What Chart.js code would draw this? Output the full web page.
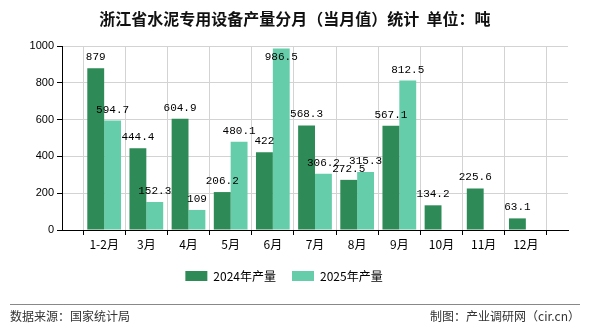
<!DOCTYPE html>
<html>
<head>
<meta charset="utf-8">
<script src="https://cdn.jsdelivr.net/npm/chart.js@4.4.1/dist/chart.umd.min.js"></script>
<style>
	body { margin: 0; background: #fff; }
	#wrap { position: relative; width: 590px; height: 330px; font-family: 'Noto Sans CJK SC', sans-serif; }
	#title { position: absolute; left: 0; top: 6px; width: 590px; text-align: center; font-size: 16px; font-weight: bold; color: #111; }
	#line { position: absolute; left: 10px; top: 304px; width: 570px; border-top: 1px solid #888; }
	.foot { position: absolute; top: 307px; font-size: 12px; color: #333; }
	#src { left: 10px; }
	#by { right: 10px; }
	canvas { position: absolute; left: 0; top: 0; }
</style>
</head>
<body>
<div id="wrap">
	<canvas id="myChart" width="590" height="330"></canvas>
	<div id="title">浙江省水泥专用设备产量分月（当月值）统计&nbsp;&nbsp;单位：吨</div>
	<div id="line"></div>
	<div class="foot" id="src">数据来源：国家统计局</div>
	<div class="foot" id="by">制图：产业调研网（cir.cn）</div>
</div>
<script>
// blank slot at both ends, like the original grid
const months = ['', '1-2月', '3月', '4月', '5月', '6月', '7月', '8月', '9月', '10月', '11月', '12月', ''];
const output_2024 = [null, 879, 444.4, 604.9, 206.2, 422, 568.3, 272.5, 567.1, 134.2, 225.6, 63.1, null];
const output_2025 = [null, 594.7, 152.3, 109, 480.1, 986.5, 306.2, 315.3, 812.5, null, null, null, null];
const y_ticks = [0, 200, 400, 600, 800, 1000];

const valueLabels = {
	id: 'valueLabels',
	afterDatasetsDraw(chart) {
		const ctx = chart.ctx;
		const top = chart.chartArea.top;
		ctx.save();
		ctx.font = '11px "Liberation Mono", monospace';
		ctx.fillStyle = '#000';
		ctx.textAlign = 'center';
		ctx.textBaseline = 'alphabetic';
		chart.data.datasets.forEach((ds, i) => {
			chart.getDatasetMeta(i).data.forEach((bar, j) => {
				const v = ds.data[j];
				if (v === null) return;
				const y = Math.max(bar.y - 8, top + 14);
				ctx.fillText(String(v), bar.x, y);
			});
		});
		ctx.restore();
	},
};

const tickFont = { family: '"Liberation Sans", sans-serif', size: 11 };

var ctx = document.getElementById('myChart').getContext('2d');
myChart = new Chart(ctx, {
	type: 'bar',
	data: {
		labels: months,
		datasets: [
			{ label: '2024年产量', data: output_2024, backgroundColor: '#2e8b57' },
			{ label: '2025年产量', data: output_2025, backgroundColor: '#66cdaa' },
		],
	},
	options: {
		responsive: false,
		animation: false,
		layout: { padding: { top: 46, left: 0, right: 22, bottom: 38 } },
		datasets: { bar: { categoryPercentage: 0.8, barPercentage: 1.0 } },
		plugins: {
			title: { display: false },
			tooltip: { enabled: false },
			legend: {
				position: 'bottom',
				labels: {
					boxWidth: 22,
					boxHeight: 10,
					padding: 16,
					color: '#000',
					font: { family: '"Noto Sans CJK SC", sans-serif', size: 12 },
				},
			},
		},
		scales: {
			x: {
				offset: false,
				grid: { color: '#d3d3d3', tickColor: '#000', tickLength: 5 },
				border: { color: '#000' },
				ticks: { color: '#000', font: { family: '"Noto Sans CJK SC", sans-serif', size: 12 }, maxRotation: 0, autoSkip: false, padding: 2 },
				afterFit: (s) => { s.height = 24; },
			},
			y: {
				min: 0,
				max: 1000,
				afterBuildTicks: (s) => { s.ticks = y_ticks.map((v) => ({ value: v })); },
				grid: { color: '#d3d3d3', tickColor: '#000', tickLength: 5 },
				border: { color: '#000' },
				ticks: { color: '#000', font: tickFont, padding: 3, callback: (v) => String(v) },
				afterFit: (s) => { s.width = 62; },
			},
		},
	},
	plugins: [valueLabels],
});
</script>
</body>
</html>
